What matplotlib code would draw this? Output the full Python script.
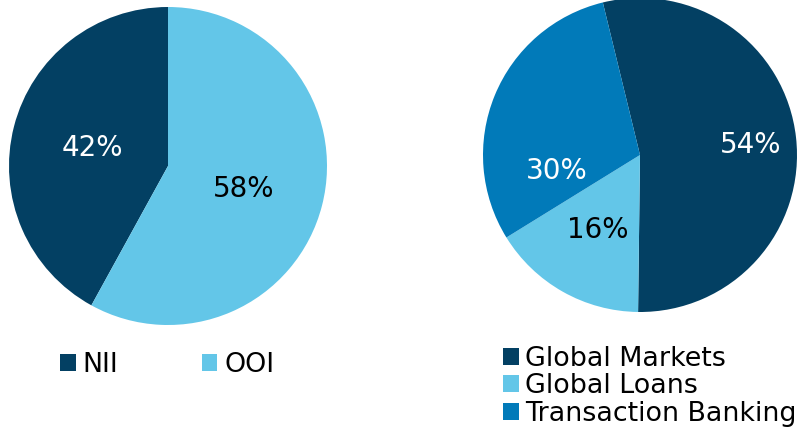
import matplotlib.pyplot as plt
import numpy as np

# income split
income_labels = ["NII", "OOI"]
income_share = [42, 58]

# business line split
business_labels = ["Global Markets", "Global Loans", "Transaction Banking"]
business_share = [54, 16, 30]

navy = "#034063"
sky = "#63C6E8"
mid_blue = "#017AB9"

W, H = 799, 432
fig = plt.figure(figsize=(W / 100, H / 100), dpi=100)


def box(cx, cy, r):
    # axes rect (figure fraction) for a pie centred at pixel cx, cy with radius r
    return [(cx - r) / W, (H - cy - r) / H, 2 * r / W, 2 * r / H]


# left pie
ax1 = fig.add_axes(box(168, 166, 159))
w1, _, t1 = ax1.pie(income_share, colors=[navy, sky], startangle=90,
                    counterclock=True, autopct="%d%%", pctdistance=0.5,
                    wedgeprops=dict(linewidth=0),
                    textprops=dict(fontsize=20))
t1[0].set_color("white")
t1[0].set_position((0.49 * np.cos(np.radians(167)), 0.49 * np.sin(np.radians(167))))
t1[1].set_color("black")
t1[1].set_position((0.5 * np.cos(np.radians(-17)), 0.5 * np.sin(np.radians(-17))))
ax1.set_xlim(-1, 1)
ax1.set_ylim(-1, 1)
ax1.set_aspect("equal")

# right pie
ax2 = fig.add_axes(box(640, 155, 157))
w2, _, t2 = ax2.pie(business_share, colors=[navy, sky, mid_blue], startangle=103.7,
                    counterclock=False, autopct="%d%%", pctdistance=0.55,
                    wedgeprops=dict(linewidth=0),
                    textprops=dict(fontsize=20))
t2[0].set_color("white")
t2[0].set_position((0.71 * np.cos(np.radians(5)), 0.71 * np.sin(np.radians(5))))
t2[1].set_color("black")
t2[2].set_color("white")
t2[2].set_position((0.54 * np.cos(np.radians(191)), 0.54 * np.sin(np.radians(191))))
ax2.set_xlim(-1, 1)
ax2.set_ylim(-1, 1)
ax2.set_aspect("equal")

fig.legend(w1, income_labels, loc="upper left", bbox_to_anchor=(60 / W, 1 - 352 / H),
           ncol=2, frameon=False, fontsize=19.4, handlelength=0.58, handleheight=0.58,
           handletextpad=0.25, columnspacing=3.1, borderpad=0, borderaxespad=0)

fig.legend(w2, business_labels, loc="upper left", bbox_to_anchor=(503 / W, 1 - 346 / H),
           frameon=False, fontsize=19.4, handlelength=0.58, handleheight=0.58,
           handletextpad=0.25, labelspacing=0.05, borderpad=0, borderaxespad=0)

fig.savefig("out.png", dpi=100)
